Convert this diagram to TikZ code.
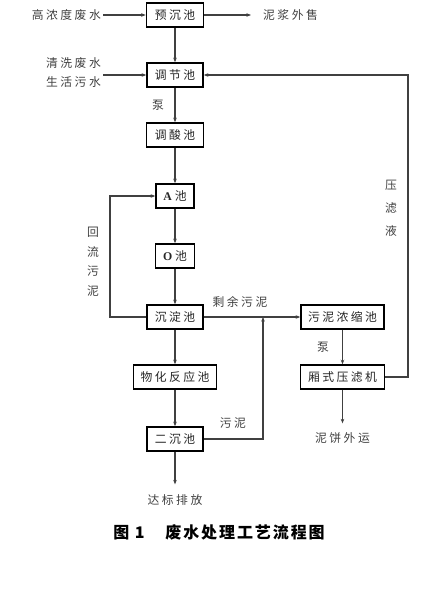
\documentclass[tikz,border=0pt]{standalone}
\usepackage{fontspec}
\setmainfont{Noto Sans CJK SC}[LetterSpace=21]
\newfontfamily\capfont{Noto Sans CJK SC}[LetterSpace=12]
\newfontfamily\lat{Liberation Serif}
\usetikzlibrary{arrows.meta}
\begin{document}
\begin{tikzpicture}[x=1pt,y=-1pt,
  box/.style={draw=black,line width=1.5pt,fill=white,minimum height=24pt,inner sep=0pt,font=\fontsize{11.8}{13}\selectfont,text=black!85},
  lbl/.style={font=\fontsize{11.8}{13}\selectfont,text=black!75,inner sep=0pt},
  conn/.style={draw=black!75,line width=1.1pt},
  arr/.style={conn,-{Stealth[length=4.5pt,width=3.5pt]}}]
\useasboundingbox (0,0) rectangle (437,594);
% boxes
\node[box,minimum width=57pt] (yc) at (175,15) {预沉池};
\node[box,minimum width=56pt] (tj) at (175,75) {调节池};
\node[box,minimum width=57pt] (ts) at (175,135) {调酸池};
\node[box,minimum width=38pt] (A) at (175,196) {{\lat\bfseries A}\hspace{3pt}池};
\node[box,minimum width=39pt] (O) at (175,256) {{\lat\bfseries O}\hspace{3pt}池};
\node[box,minimum width=56pt] (cd) at (175,317) {沉淀池};
\node[box,minimum width=83pt] (nj) at (342.5,317) {污泥浓缩池};
\node[box,minimum width=83pt] (wh) at (175,377) {物化反应池};
\node[box,minimum width=84pt] (yl) at (342.5,377) {厢式压滤机};
\node[box,minimum width=56pt] (ec) at (175,439) {二沉池};
% text labels
\node[lbl,anchor=east] (in1) at (101,15) {高浓度废水};
\node[lbl,anchor=west] (out1) at (263,15) {泥浆外售};
\node[lbl,anchor=east,align=center] (in2) at (101,73) {清洗废水\\[6pt]生活污水};
\node[lbl] (p1) at (158,105) {泵};
\node[lbl] (p2) at (323,347) {泵};
\node[lbl] (rec) at (93,263) {\begin{tabular}{@{}c@{}}回\\[6pt]流\\[6pt]污\\[6pt]泥\end{tabular}};
\node[lbl] (ylq) at (391,210) {\begin{tabular}{@{}c@{}}压\\[9pt]滤\\[9pt]液\end{tabular}};
\node[lbl] (syl) at (240,302) {剩余污泥};
\node[lbl] (wn) at (233,423) {污泥};
\node[lbl] (db) at (175,500) {达标排放};
\node[lbl] (nb) at (342.5,438) {泥饼外运};
\node[font=\capfont\bfseries\fontsize{16}{18}\selectfont,inner sep=0pt] (cap) at (219,532) {图 1\hspace{1.3em}废水处理工艺流程图};
% coordinates
\coordinate (lp) at (110,317);
\coordinate (j) at (263,317);
\coordinate (rt) at (408,377);
% connectors
\draw[arr] (in1.east) ++(2,0) -- (yc.west);
\draw[arr,shorten >=12pt] (yc.east) -- (out1.west);
\draw[arr] (yc.south) -- (tj.north);
\draw[arr] (in2.east) ++(2,2) -- (tj.west);
\draw[arr] (tj.south) -- (ts.north);
\draw[arr] (ts.south) -- (A.north);
\draw[arr] (A.south) -- (O.north);
\draw[arr] (O.south) -- (cd.north);
\draw[arr] (cd.west) -- (lp) |- (A.west);
\draw[arr] (cd.east) -- (nj.west);
\draw[arr] (cd.south) -- (wh.north);
\draw[arr] (wh.south) -- (ec.north);
\draw[arr,shorten >=10pt] (ec.south) -- (db.north);
\draw[arr] (ec.east) -| (j);
\draw[arr] (nj.south) -- (yl.north);
\draw[arr,shorten >=9pt] (yl.south) -- (nb.north);
\draw[arr] (yl.east) -- (rt) |- (tj.east);
\end{tikzpicture}
\end{document}
